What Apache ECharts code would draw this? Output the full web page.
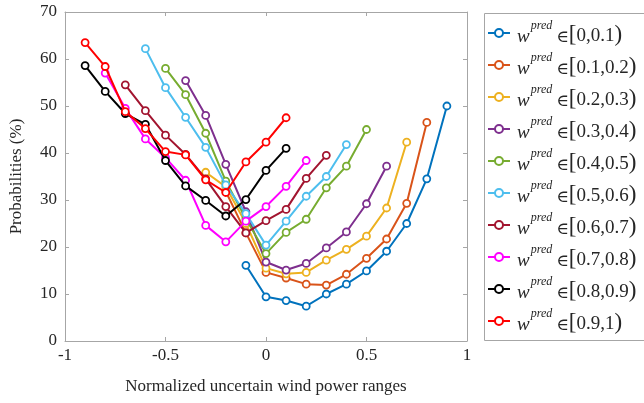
<!DOCTYPE html>
<html>
<head>
<meta charset="utf-8">
<script src="https://cdn.jsdelivr.net/npm/echarts@6/dist/echarts.min.js"></script>
<style>
  html, body { margin: 0; padding: 0; background: #fff; }
  #chart { width: 644px; height: 403px; }
</style>
</head>
<body>
<div id="chart"></div>
<script>
// x positions shared by all curves (normalized uncertain wind power range)
const xValues = [-0.9, -0.8, -0.7, -0.6, -0.5, -0.4, -0.3, -0.2, -0.1, 0, 0.1, 0.2, 0.3, 0.4, 0.5, 0.6, 0.7, 0.8, 0.9];

// probabilities (%) per w^pred bin, null where the curve has no point
const p00_01 = [null, null, null, null, null, null, null, null, 16.1, 9.4, 8.6, 7.4, 10, 12.1, 14.9, 19.1, 25, 34.5, 50];
const p01_02 = [null, null, null, null, null, null, null, 31.8, 23, 14.6, 13.4, 12.1, 11.9, 14.2, 17.6, 21.7, 29.3, 46.5, null];
const p02_03 = [null, null, null, null, null, null, 35.9, 32.8, 25, 15.5, 14.3, 14.6, 17.2, 19.5, 22.3, 28.3, 42.3, null, null];
const p03_04 = [null, null, null, null, null, 55.4, 48, 37.6, 27.5, 16.8, 15.1, 16.5, 19.8, 23.2, 29.2, 37.2, null, null, null];
const p04_05 = [null, null, null, null, 58, 52.4, 44.2, 34, 26, 18.6, 23.1, 25.9, 32.6, 37.2, 45, null, null, null, null];
const p05_06 = [null, null, null, 62.2, 53.9, 47.6, 41.2, 33.2, 27.1, 20.4, 25.5, 30.8, 35, 41.8, null, null, null, null, null];
const p06_07 = [null, null, 54.5, 49, 43.8, 39.7, 34.5, 28.6, 23, 25.6, 28, 34.6, 39.5, null, null, null, null, null, null];
const p07_08 = [null, 57, 49.5, 43, 39, 34.2, 24.6, 21.1, 25.5, 28.6, 32.9, 38.4, null, null, null, null, null, null, null];
const p08_09 = [58.6, 53.1, 48.4, 46.1, 38.4, 33, 29.9, 26.6, 30.1, 36.3, 41, null, null, null, null, null, null, null, null];
const p09_10 = [63.5, 58.4, 48.8, 45.2, 40.3, 39.6, 34.3, 31.6, 38.1, 42.3, 47.5, null, null, null, null, null, null, null, null];

const binLabels = ['0,0.1', '0.1,0.2', '0.2,0.3', '0.3,0.4', '0.4,0.5', '0.5,0.6', '0.6,0.7', '0.7,0.8', '0.8,0.9', '0.9,1'];
const seriesValues = [p00_01, p01_02, p02_03, p03_04, p04_05, p05_06, p06_07, p07_08, p08_09, p09_10];
const colors = ['#0072BD', '#D95319', '#EDB120', '#7E2F8E', '#77AC30', '#4DBEEE', '#A2142F', '#FF00FF', '#000000', '#FF0000'];

const serif = '"Liberation Serif", "DejaVu Serif", serif';
const axisGray = '#a6a6a6';
const textColor = '#262626';

const series = seriesValues.map((vals, i) => ({
  name: binLabels[i],
  type: 'line',
  data: xValues.map((x, j) => [x, vals[j]]).filter(d => d[1] !== null),
  symbol: 'circle',
  symbolSize: 7,
  lineStyle: { color: colors[i], width: 2 },
  itemStyle: { color: '#fff', borderColor: colors[i], borderWidth: 1.8 },
  emphasis: { disabled: true },
  z: 2 + i,
}));

const tickStyle = { show: true, inside: true, length: 4, lineStyle: { color: axisGray } };
const lineStyle = { show: true, onZero: false, lineStyle: { color: axisGray } };

const chart = echarts.init(document.getElementById('chart'));
chart.setOption({
  animation: false,
  grid: { left: 65, right: 177, top: 12, bottom: 62 },
  xAxis: [{
    type: 'value', min: -1, max: 1, interval: 0.5,
    name: 'Normalized uncertain wind power ranges',
    nameLocation: 'middle', nameGap: 37,
    nameTextStyle: { fontFamily: serif, fontSize: 17, color: textColor },
    axisLine: lineStyle,
    axisTick: tickStyle,
    axisLabel: { fontFamily: serif, fontSize: 17, color: textColor, margin: 6 },
    splitLine: { show: false },
  }, {
    type: 'value', min: -1, max: 1, interval: 0.5, position: 'top',
    axisLine: lineStyle,
    axisTick: tickStyle,
    axisLabel: { show: false },
    splitLine: { show: false },
  }],
  yAxis: [{
    type: 'value', min: 0, max: 70, interval: 10,
    name: 'Probabilities (%)',
    nameLocation: 'middle', nameGap: 40,
    nameTextStyle: { fontFamily: serif, fontSize: 17, color: textColor },
    axisLine: lineStyle,
    axisTick: tickStyle,
    axisLabel: { fontFamily: serif, fontSize: 17, color: textColor, margin: 8 },
    splitLine: { show: false },
  }, {
    type: 'value', min: 0, max: 70, interval: 10, position: 'right',
    axisLine: lineStyle,
    axisTick: tickStyle,
    axisLabel: { show: false },
    splitLine: { show: false },
  }],
  legend: {
    orient: 'vertical',
    left: 482, top: 15,
    itemWidth: 22, itemHeight: 10, itemGap: 6,
    data: binLabels,
    formatter: name => '{w|w}{sup|pred}{e|∈}{b|[}{t|' + name + '}{b|)}',
    textStyle: {
      color: textColor,
      rich: {
        w: { fontFamily: serif, fontSize: 19, fontStyle: 'italic', lineHeight: 26, verticalAlign: 'bottom', padding: [0, 0, 0, 2] },
        sup: { fontFamily: serif, fontSize: 12, fontStyle: 'italic', lineHeight: 26, verticalAlign: 'top', padding: [0, 4, 0, 1] },
        e: { fontFamily: serif, fontSize: 17, lineHeight: 26, verticalAlign: 'bottom' },
        b: { fontFamily: serif, fontSize: 23, lineHeight: 26, verticalAlign: 'bottom' },
        t: { fontFamily: serif, fontSize: 19, lineHeight: 26, verticalAlign: 'bottom' },
      },
    },
  },
  graphic: [{
    type: 'rect',
    shape: { x: 484.5, y: 13.5, width: 200, height: 327 },
    style: { fill: 'none', stroke: axisGray, lineWidth: 1 },
    silent: true,
  }],
  series,
});
</script>
</body>
</html>
